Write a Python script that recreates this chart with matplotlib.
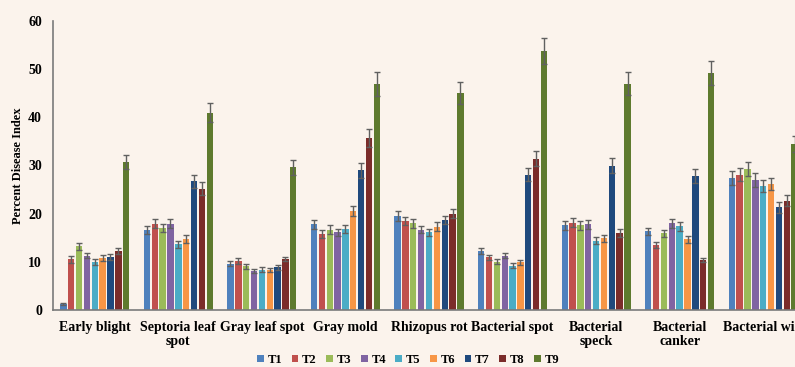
import matplotlib.pyplot as plt
import numpy as np

# disease groups along the x axis
diseases = ["Early blight", "Septoria leaf\nspot", "Gray leaf spot", "Gray mold",
            "Rhizopus rot", "Bacterial spot", "Bacterial\nspeck", "Bacterial\ncanker",
            "Bacterial wilt"]
treatments = ["T1", "T2", "T3", "T4", "T5", "T6", "T7", "T8", "T9"]

# percent disease index per treatment, one value per disease
T1 = [1.3, 16.6, 9.6, 17.8, 19.5, 12.3, 17.6, 16.3, 27.4]
T2 = [10.5, 17.9, 10.1, 15.8, 18.5, 10.9, 18.1, 13.5, 28.1]
T3 = [13.2, 17.0, 9.1, 16.7, 18.0, 10.0, 17.6, 15.9, 29.3]
T4 = [11.3, 17.9, 8.1, 16.1, 16.7, 11.3, 17.8, 18.0, 27.0]
T5 = [9.9, 13.6, 8.4, 16.8, 16.1, 9.2, 14.4, 17.4, 25.7]
T6 = [10.8, 14.7, 8.3, 20.5, 17.3, 9.9, 14.9, 14.7, 26.2]
T7 = [11.0, 26.7, 8.9, 29.0, 18.7, 28.1, 30.0, 27.8, 21.3]
T8 = [12.3, 25.2, 10.6, 35.7, 20.0, 31.4, 16.0, 10.4, 22.7]
T9 = [30.7, 41.0, 29.6, 47.0, 45.0, 53.8, 47.0, 49.2, 34.5]

# error bar half-lengths
E1 = [0.2, 0.9, 0.5, 0.9, 1.0, 0.6, 0.9, 0.8, 1.4]
E2 = [0.7, 0.9, 0.6, 0.8, 0.9, 0.6, 0.9, 0.7, 1.4]
E3 = [0.7, 0.9, 0.5, 0.9, 0.9, 0.5, 0.9, 0.8, 1.5]
E4 = [0.6, 0.9, 0.5, 0.8, 0.8, 0.6, 0.9, 0.9, 1.4]
E5 = [0.6, 0.7, 0.5, 0.9, 0.8, 0.5, 0.7, 0.9, 1.3]
E6 = [0.6, 0.8, 0.5, 1.0, 0.9, 0.5, 0.7, 0.7, 1.3]
E7 = [0.6, 1.3, 0.5, 1.5, 0.9, 1.4, 1.5, 1.4, 1.1]
E8 = [0.6, 1.3, 0.5, 1.8, 1.0, 1.6, 0.8, 0.4, 1.1]
E9 = [1.5, 2.0, 1.5, 2.5, 2.3, 2.7, 2.4, 2.5, 1.7]

values = [T1, T2, T3, T4, T5, T6, T7, T8, T9]
errors = [E1, E2, E3, E4, E5, E6, E7, E8, E9]
colors = ["#4F81BD", "#C0504D", "#9BBB59", "#8064A2", "#4BACC6",
          "#F79646", "#1F497D", "#7B2C2A", "#5E7A2E"]

bg = "#FBF3EC"
serif = ["Liberation Serif", "DejaVu Serif"]

fig = plt.figure(figsize=(7.95, 3.67), dpi=100)
fig.patch.set_facecolor(bg)
# axes run slightly past the right edge, so the last group is cut off
ax = fig.add_axes([53 / 795, 1 - 310 / 367, 752 / 795, 289 / 367])
ax.set_facecolor(bg)

x = np.arange(len(diseases))
slot = 0.094
width = 0.076
for i, (vals, errs, c, name) in enumerate(zip(values, errors, colors, treatments)):
    pos = x + (i - 4) * slot
    ax.bar(pos, vals, width, color=c, label=name, zorder=2)
    ax.errorbar(pos, vals, yerr=errs, fmt="none", ecolor="#606060",
                elinewidth=1.0, capsize=2.2, capthick=1.0, zorder=3)

ax.set_xlim(-0.5, len(diseases) - 0.5)
ax.set_ylim(0, 60)
ax.set_yticks(range(0, 61, 10))
ax.set_xticks(x)
ax.set_xticklabels(diseases, fontfamily=serif, fontweight="bold", fontsize=10,
                   linespacing=1.1)
for lab in ax.get_yticklabels():
    lab.set_fontfamily(serif)
    lab.set_fontweight("bold")
    lab.set_fontsize(10)
ax.tick_params(axis="x", length=0, pad=8)
ax.tick_params(axis="y", length=0, pad=8)
ax.set_ylabel("Percent Disease Index", fontfamily=serif, fontweight="bold",
              fontsize=9, labelpad=3)

for side in ["top", "right"]:
    ax.spines[side].set_visible(False)
for side in ["left", "bottom"]:
    ax.spines[side].set_color("#7a7a7a")
    ax.spines[side].set_linewidth(1.2)

leg = fig.legend(loc="lower center", bbox_to_anchor=(408 / 795, -0.028),
                 ncol=9, frameon=False, handlelength=0.55, handleheight=0.55,
                 handletextpad=0.3, columnspacing=0.75,
                 prop={"family": serif, "weight": "bold", "size": 9})

fig.savefig("out.png", dpi=100, facecolor=bg)
